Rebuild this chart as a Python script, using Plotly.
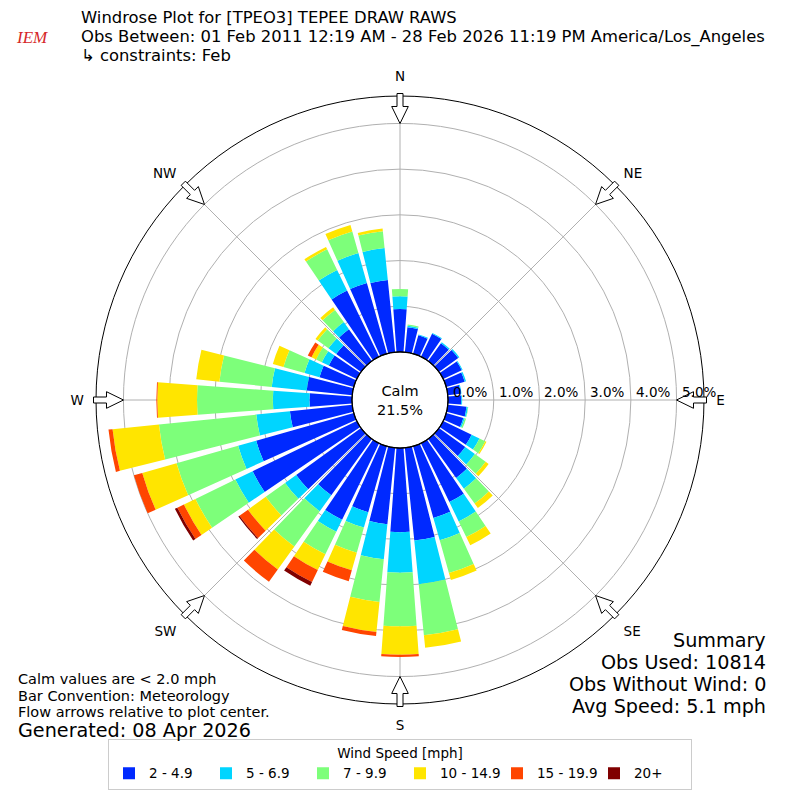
import math
import plotly.graph_objects as go

# ---------------- data ----------------
directions = [0, 10, 20, 30, 40, 50, 60, 70, 80, 90, 100, 110, 120, 130, 140, 150, 160, 170,
              180, 190, 200, 210, 220, 230, 240, 250, 260, 270, 280, 290, 300, 310, 320, 330, 340, 350]

speed_labels = ["2 - 4.9", "5 - 6.9", "7 - 9.9", "10 - 14.9", "15 - 19.9", "20+"]
speed_colors = ["#0029ff", "#00d5ff", "#7dff7a", "#ffe500", "#ff4500", "#800000"]

# percent of observations per direction bin, per speed class
spd_2_5 = [0.94, 0.55, 0.42, 0.56, 0.48, 0.52, 0.45, 0.42, 0.28, 0.29, 0.41, 0.39, 0.69, 0.71, 1.05, 1.43, 1.63, 2.04,
           1.84, 1.68, 1.50, 1.86, 1.52, 1.75, 2.53, 2.22, 1.37, 0.93, 1.00, 0.78, 0.68, 0.67, 0.86, 1.61, 1.61, 1.59]
spd_5_7 = [0.28, 0.03, 0.02, 0.02, 0.03, 0.03, 0.02, 0.03, 0.02, 0.02, 0.03, 0.03, 0.19, 0.26, 0.29, 0.47, 0.51, 0.96,
           0.89, 0.77, 0.35, 0.29, 0.43, 0.30, 0.42, 0.41, 0.74, 0.80, 0.77, 0.34, 0.17, 0.21, 0.19, 0.50, 0.68, 0.70]
spd_7_10 = [0.16, 0.03, 0.00, 0.00, 0.00, 0.00, 0.00, 0.00, 0.00, 0.00, 0.01, 0.03, 0.14, 0.29, 0.40, 0.38, 0.74, 1.12,
            1.17, 0.94, 0.57, 0.55, 0.95, 0.52, 0.97, 1.40, 2.14, 1.66, 1.15, 0.48, 0.14, 0.29, 0.33, 0.50, 0.49, 0.37]
spd_10_15 = [0.00, 0.00, 0.00, 0.00, 0.00, 0.00, 0.00, 0.00, 0.00, 0.00, 0.00, 0.00, 0.03, 0.08, 0.12, 0.20, 0.16, 0.28,
             0.62, 0.66, 0.40, 0.38, 0.62, 0.48, 0.28, 0.78, 1.02, 0.87, 0.51, 0.24, 0.11, 0.06, 0.07, 0.06, 0.15, 0.06]
spd_15_20 = [0.00, 0.00, 0.00, 0.00, 0.00, 0.00, 0.00, 0.00, 0.00, 0.00, 0.00, 0.00, 0.00, 0.00, 0.00, 0.00, 0.00, 0.00,
             0.05, 0.09, 0.25, 0.29, 0.33, 0.23, 0.16, 0.19, 0.09, 0.02, 0.00, 0.00, 0.09, 0.00, 0.00, 0.00, 0.00, 0.00]
spd_20p = [0.00, 0.00, 0.00, 0.00, 0.00, 0.00, 0.00, 0.00, 0.00, 0.00, 0.00, 0.00, 0.00, 0.00, 0.00, 0.00, 0.00, 0.00,
           0.00, 0.00, 0.00, 0.09, 0.00, 0.03, 0.06, 0.00, 0.00, 0.00, 0.00, 0.00, 0.00, 0.00, 0.00, 0.00, 0.00, 0.00]

series = [spd_2_5, spd_5_7, spd_7_10, spd_10_15, spd_15_20, spd_20p]

compass_angles = [0, 45, 90, 135, 180, 225, 270, 315]
compass_labels = ["N", "NE", "E", "SE", "S", "SW", "W", "NW"]
radial_ticks = [0, 1, 2, 3, 4, 5]
radial_labels = ["0.0%", "1.0%", "2.0%", "3.0%", "4.0%", "5.0%"]
radial_max = 5.6

calm_pct = 21.5
title_lines = ["Windrose Plot for [TPEO3] TEPEE DRAW RAWS",
               "Obs Between: 01 Feb 2011 12:19 AM - 28 Feb 2026 11:19 PM America/Los_Angeles",
               "\u21b3 constraints: Feb"]
notes_left = ["Calm values are < 2.0 mph", "Bar Convention: Meteorology",
              "Flow arrows relative to plot center."]
generated = "Generated: 08 Apr 2026"
summary_lines = ["Summary", "Obs Used: 10814", "Obs Without Wind: 0", "Avg Speed: 5.1 mph"]

FONT = "DejaVu Sans"
W = H = 800
CX, CY, R_OUT = 400, 400, 304   # polar centre / outer radius in px
HOLE = 0.158
R_HOLE = HOLE * R_OUT

fig = go.Figure()
for vals, lab, col in zip(series, speed_labels, speed_colors):
    fig.add_trace(go.Barpolar(
        r=vals, theta=directions, width=8.4, name=lab,
        marker=dict(color=col, line=dict(width=0)),
    ))

fig.update_layout(
    width=W, height=H,
    margin=dict(l=0, r=0, t=0, b=0),
    paper_bgcolor="white",
    font=dict(family=FONT, color="black"),
    polar=dict(
        domain=dict(x=[(CX - R_OUT) / W, (CX + R_OUT) / W], y=[(H - CY - R_OUT) / H, (H - CY + R_OUT) / H]),
        hole=HOLE,
        bgcolor="white",
        barmode="stack",
        radialaxis=dict(range=[0, radial_max], tickmode="array", tickvals=radial_ticks,
                        showticklabels=False, angle=0, showline=False, ticks="",
                        gridcolor="#b0b0b0", gridwidth=1),
        angularaxis=dict(direction="clockwise", rotation=90, tickmode="array",
                         tickvals=compass_angles, ticktext=compass_labels,
                         ticks="outside", ticklen=9, tickcolor="rgba(0,0,0,0)",
                         showline=True, linecolor="black", linewidth=1,
                         gridcolor="#b0b0b0", gridwidth=1, tickfont=dict(size=13.5, color="black")),
    ),
    legend=dict(orientation="h", x=0.5, xanchor="center", y=0.012, yanchor="bottom",
                bordercolor="#cccccc", borderwidth=1, bgcolor="white",
                title=dict(text="Wind Speed [mph]", side="top center", font=dict(size=13.5)),
                font=dict(size=13.5), entrywidth=52, itemwidth=30, traceorder="normal"),
    showlegend=True,
)

# radial tick labels: just right of each ring, slightly above the E line (as in the original)
px_per_unit = (R_OUT - R_HOLE) / radial_max
for v, t in zip(radial_ticks, radial_labels):
    xr = CX + R_HOLE + v * px_per_unit + 4
    fig.add_annotation(text=t, x=xr / W, y=1 - 392 / H, xref="paper", yref="paper",
                       xanchor="left", yanchor="middle", showarrow=False, font=dict(size=13.5),
                       borderpad=0)

# hollow flow arrows at the compass points, pointing toward the centre
r_tail, r_tip = 306.5, 276.5
shaft_len, shaft_hw, head_hw = 13.0, 3.0, 8.3
for b in compass_angles:
    ux, uy = math.sin(math.radians(b)), -math.cos(math.radians(b))   # outward unit (screen px, y down)
    px_, py_ = -uy, ux                                                 # perpendicular
    def pt(along, side):
        rr = r_tail - along
        x = CX + rr * ux + side * px_
        y = CY + rr * uy + side * py_
        return f"{x / W:.5f},{1 - y / H:.5f}"
    L = r_tail - r_tip
    pts = [pt(0, -shaft_hw), pt(shaft_len, -shaft_hw), pt(shaft_len, -head_hw), pt(L, 0),
           pt(shaft_len, head_hw), pt(shaft_len, shaft_hw), pt(0, shaft_hw)]
    path = "M" + " L".join(pts) + " Z"
    fig.add_shape(type="path", xref="paper", yref="paper", path=path,
                  line=dict(color="black", width=1), fillcolor="white", layer="above")

# calm circle outline
fig.add_shape(type="circle", xref="paper", yref="paper",
              x0=(CX - R_HOLE) / W, x1=(CX + R_HOLE) / W, y0=(CY - R_HOLE) / H, y1=(CY + R_HOLE) / H,
              line=dict(color="black", width=1.2), fillcolor="rgba(0,0,0,0)")

fig.add_annotation(text=f"Calm<br>{calm_pct:.1f}%", x=0.5, y=0.5, xref="paper", yref="paper",
                   showarrow=False, font=dict(size=14.5))

# title
for i, line in enumerate(title_lines):
    fig.add_annotation(text=line, x=80 / W, y=1 - (18 + i * 18.7) / H, xref="paper", yref="paper",
                       xanchor="left", yanchor="middle", showarrow=False, font=dict(size=16.4),
                       borderpad=0)

# IEM logo stand-in
fig.add_annotation(text="<i>IEM</i>", x=14 / W, y=1 - 38 / H, xref="paper", yref="paper",
                   xanchor="left", yanchor="middle",
                   showarrow=False, font=dict(family="Liberation Serif", size=17, color="#d62728"))

for i, line in enumerate(notes_left):
    fig.add_annotation(text=line, x=16 / W, y=1 - (679 + i * 16.5) / H, xref="paper", yref="paper",
                       xanchor="left", yanchor="middle", showarrow=False, font=dict(size=14.5))
fig.add_annotation(text=generated, x=16 / W, y=1 - 730 / H, xref="paper", yref="paper",
                   xanchor="left", yanchor="middle", showarrow=False, font=dict(size=19.2))

for i, line in enumerate(summary_lines):
    fig.add_annotation(text=line, x=768 / W, y=1 - (640 + i * 22) / H, xref="paper", yref="paper",
                       xanchor="right", yanchor="middle", showarrow=False, font=dict(size=19.2))

fig.write_html("out.html", config={"displayModeBar": False},
               post_script="document.body.style.margin='0';document.body.style.overflow='hidden';")
